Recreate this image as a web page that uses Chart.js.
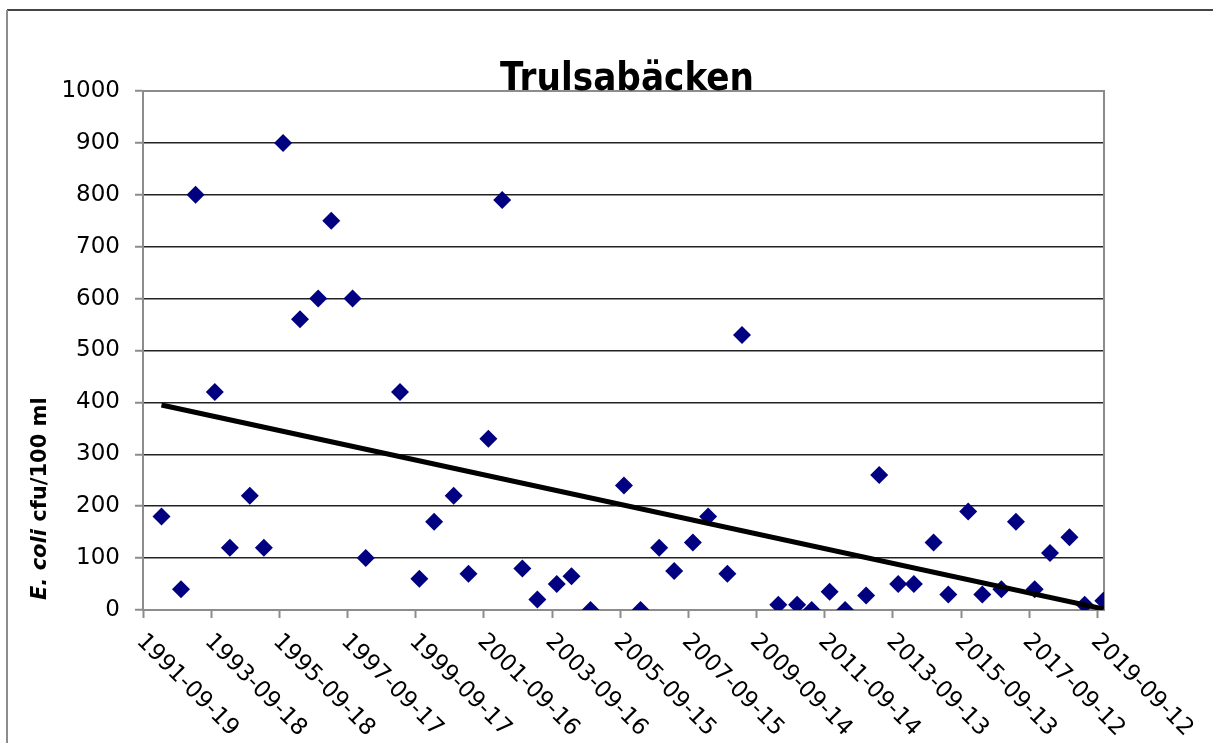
<!DOCTYPE html>
<html>
<head>
<meta charset="utf-8">
<script src="https://cdn.jsdelivr.net/npm/chart.js@4/dist/chart.umd.min.js"></script>
<style>
    html, body { margin: 0; padding: 0; background: #fff; }
    #wrap { width: 1213px; height: 743px; }
</style>
</head>
<body>
<div id="wrap"><canvas id="ecoliChart" width="1213" height="743"></canvas></div>
<script>
const chartTitle = 'Trulsabäcken';

// provtagningsdatum och E. coli (cfu/100 ml)
const sampleDates = [
    '1992-04-04', '1992-10-30', '1993-04-04', '1993-10-27', '1994-04-06', '1994-11-06',
    '1995-04-05', '1995-10-28', '1996-04-26', '1996-11-07', '1997-03-27', '1997-11-10',
    '1998-03-31', '1999-04-02', '1999-10-26', '2000-04-01', '2000-10-28', '2001-04-04',
    '2001-11-03', '2002-03-31', '2002-11-02', '2003-04-12', '2003-11-05', '2004-04-11',
    '2004-11-01', '2005-10-25', '2006-04-21', '2006-11-06', '2007-04-16', '2007-11-02',
    '2008-04-13', '2008-11-05', '2009-04-11', '2010-05-05', '2010-11-22', '2011-04-27',
    '2011-11-05', '2012-04-19', '2012-11-30', '2013-04-19', '2013-11-08', '2014-04-25',
    '2014-11-22', '2015-04-29', '2015-11-28', '2016-04-27', '2016-11-17', '2017-04-22',
    '2017-11-09', '2018-04-22', '2018-11-16', '2019-04-28', '2019-11-14'
];
const eColi = [
    180, 40, 800, 420, 120, 220,
    120, 900, 560, 600, 750, 600,
    100, 420, 60, 170, 220, 70,
    330, 790, 80, 20, 50, 65,
    0, 240, 0, 120, 75, 130,
    180, 70, 530, 10, 10, 0,
    35, 0, 28, 260, 50, 50,
    130, 30, 190, 30, 40, 170,
    40, 110, 140, 10, 18
];

// linjär trendlinje (ändpunkter avlästa)
const trendDates = ['1992-04-04', '2019-11-14'];
const trendValues = [395, 2];

const xTickLabels = [
    '1991-09-19', '1993-09-18', '1995-09-18', '1997-09-17', '1999-09-17',
    '2001-09-16', '2003-09-16', '2005-09-15', '2007-09-15', '2009-09-14',
    '2011-09-14', '2013-09-13', '2015-09-13', '2017-09-12', '2019-09-12'
];
const xMin = '1991-09-19';
const xMax = '2019-11-21';

const COLORS = {
    marker: '#000080',
    trend: '#000000',
    grid: '#222222',
    axis: '#8c8c8c',
    text: '#000000'
};

const TICK_FONT = '23px "DejaVu Sans"';

function pad2(n) { return n < 10 ? '0' + n : '' + n; }
function formatDate(ms) {
    const d = new Date(ms);
    return d.getUTCFullYear() + '-' + pad2(d.getUTCMonth() + 1) + '-' + pad2(d.getUTCDate());
}

const decorPlugin = {
    id: 'decor',
    beforeDraw(chart) {
        const ctx = chart.ctx;
        ctx.save();
        ctx.fillStyle = '#fff';
        ctx.fillRect(0, 0, chart.width, chart.height);
        // yttre ram
        ctx.lineWidth = 2;
        ctx.beginPath();
        ctx.moveTo(1213, 10);
        ctx.lineTo(7, 10);
        ctx.strokeStyle = '#444';
        ctx.stroke();
        ctx.beginPath();
        ctx.moveTo(7, 10);
        ctx.lineTo(7, 743);
        ctx.strokeStyle = '#8c8c8c';
        ctx.stroke();
        ctx.restore();
    },
    beforeDatasetsDraw(chart) {
        const ctx = chart.ctx;
        const a = chart.chartArea;
        ctx.save();
        ctx.strokeStyle = COLORS.axis;
        ctx.lineWidth = 2;
        ctx.beginPath();
        ctx.moveTo(a.left, a.top);
        ctx.lineTo(a.right, a.top);
        ctx.lineTo(a.right, a.bottom);
        ctx.stroke();
        ctx.restore();
    },
    afterDraw(chart) {
        const ctx = chart.ctx;
        const xScale = chart.scales.x;
        ctx.save();
        // titel
        ctx.fillStyle = COLORS.text;
        ctx.font = 'bold 39px "DejaVu Sans"';
        ctx.textAlign = 'center';
        ctx.textBaseline = 'alphabetic';
        ctx.translate(627, 90);
        ctx.scale(0.88, 1);
        ctx.fillText(chartTitle, 0, 0);
        ctx.restore();

        // x-etiketter, lutade nedåt åt höger
        ctx.save();
        ctx.fillStyle = COLORS.text;
        ctx.font = TICK_FONT;
        ctx.textAlign = 'left';
        ctx.textBaseline = 'middle';
        xScale.ticks.forEach(t => {
            const px = xScale.getPixelForValue(t.value);
            ctx.save();
            ctx.translate(px - 3, 638);
            ctx.rotate(Math.PI / 4);
            ctx.fillText(formatDate(t.value), 0, 0);
            ctx.restore();
        });
        ctx.restore();

        // y-axelns titel med kursiv E. coli
        ctx.save();
        ctx.fillStyle = COLORS.text;
        ctx.translate(46, 600);
        ctx.rotate(-Math.PI / 2);
        ctx.textAlign = 'left';
        ctx.textBaseline = 'alphabetic';
        ctx.font = 'italic bold 21px "DejaVu Sans"';
        const part1 = 'E. coli';
        ctx.fillText(part1, 0, 0);
        const w1 = ctx.measureText(part1 + ' ').width;
        ctx.font = 'bold 21px "DejaVu Sans"';
        ctx.fillText('cfu/100 ml', w1, 0);
        ctx.restore();
    }
};

const scatterData = sampleDates.map((d, i) => ({ x: Date.parse(d), y: eColi[i] }));
const trendData = trendDates.map((d, i) => ({ x: Date.parse(d), y: trendValues[i] }));

const ctx = document.getElementById('ecoliChart').getContext('2d');
new Chart(ctx, {
    type: 'scatter',
    data: {
        datasets: [{
            label: 'E. coli',
            data: scatterData,
            pointStyle: 'rectRot',
            pointRadius: 9,
            pointHoverRadius: 9,
            backgroundColor: COLORS.marker,
            borderColor: COLORS.marker,
            borderWidth: 0,
            showLine: false,
            order: 1
        },
        {
            label: 'Trend',
            type: 'line',
            data: trendData,
            borderColor: COLORS.trend,
            borderWidth: 5,
            pointRadius: 0,
            fill: false,
            order: 0
        }]
    },
    options: {
        responsive: false,
        animation: false,
        layout: { padding: { left: 0, top: 91, right: 109, bottom: 0 } },
        plugins: {
            legend: { display: false },
            title: { display: false },
            tooltip: { enabled: false }
        },
        scales: {
            x: {
                type: 'linear',
                min: Date.parse(xMin),
                max: Date.parse(xMax),
                afterBuildTicks: scale => {
                    scale.ticks = xTickLabels.map(d => ({ value: Date.parse(d) }));
                },
                afterFit: scale => { scale.height = 133; },
                ticks: { display: false },
                grid: {
                    drawOnChartArea: false,
                    drawTicks: true,
                    tickLength: 8,
                    tickColor: COLORS.axis,
                    tickWidth: 2
                },
                border: { display: true, color: COLORS.axis, width: 2 }
            },
            y: {
                min: 0,
                max: 1000,
                afterFit: scale => { scale.width = 143; },
                ticks: {
                    stepSize: 100,
                    padding: 15,
                    color: COLORS.text,
                    font: { family: 'DejaVu Sans', size: 23 },
                    callback: v => String(v)
                },
                grid: {
                    color: COLORS.grid,
                    lineWidth: 1.5,
                    drawTicks: true,
                    tickLength: 8,
                    tickColor: COLORS.axis,
                    tickWidth: 2
                },
                border: { display: true, color: COLORS.axis, width: 2 }
            }
        }
    },
    plugins: [decorPlugin]
});
</script>
</body>
</html>
